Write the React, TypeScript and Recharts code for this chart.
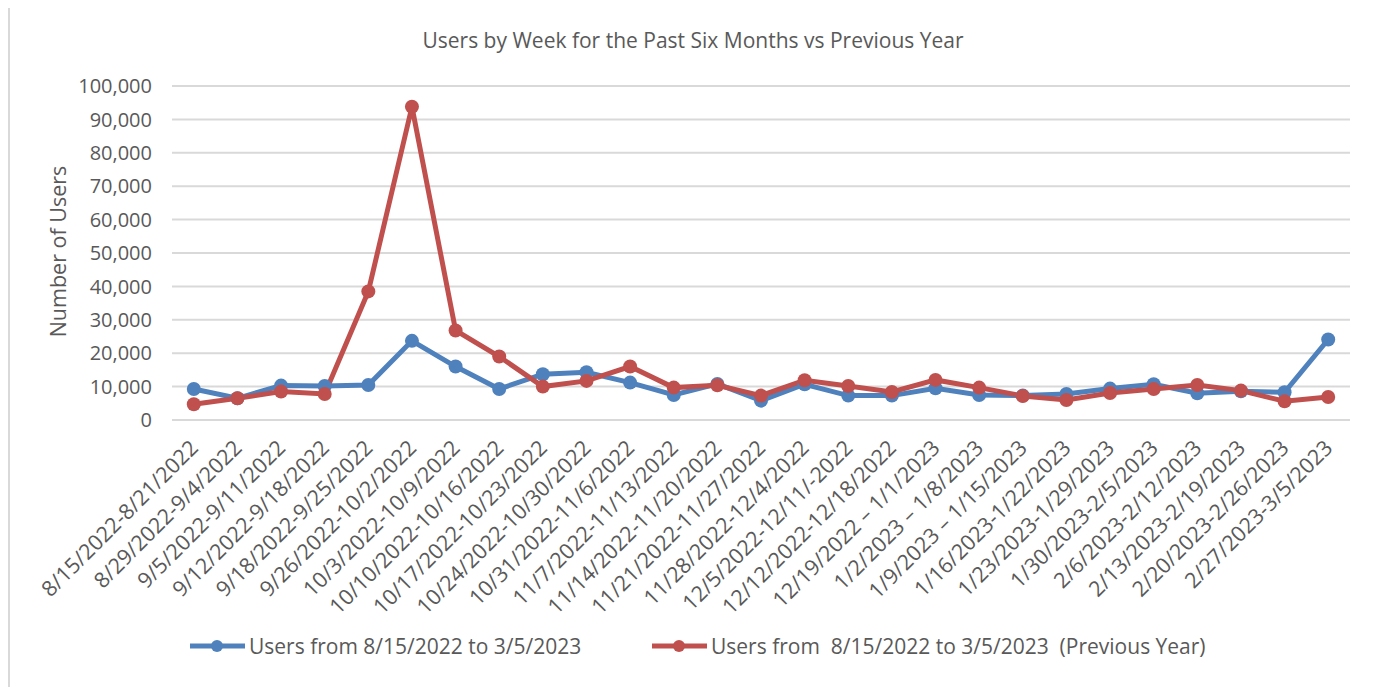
import React from 'react';
import { LineChart, Line, XAxis, YAxis, CartesianGrid } from 'recharts';

const weeks = [
  '8/15/2022-8/21/2022',
  '8/29/2022-9/4/2022',
  '9/5/2022-9/11/2022',
  '9/12/2022-9/18/2022',
  '9/18/2022-9/25/2022',
  '9/26/2022-10/2/2022',
  '10/3/2022-10/9/2022',
  '10/10/2022-10/16/2022',
  '10/17/2022-10/23/2022',
  '10/24/2022-10/30/2022',
  '10/31/2022-11/6/2022',
  '11/7/2022-11/13/2022',
  '11/14/2022-11/20/2022',
  '11/21/2022-11/27/2022',
  '11/28/2022-12/4/2022',
  '12/5/2022-12/11/-2022',
  '12/12/2022-12/18/2022',
  '12/19/2022 \u2013 1/1/2023',
  '1/2/2023 \u2013 1/8/2023',
  '1/9/2023 \u2013 1/15/2023',
  '1/16/2023-1/22/2023',
  '1/23/2023-1/29/2023',
  '1/30/2023-2/5/2023',
  '2/6/2023-2/12/2023',
  '2/13/2023-2/19/2023',
  '2/20/2023-2/26/2023',
  '2/27/2023-3/5/2023',
];

const currentUsers = [9300, 6500, 10300, 10200, 10500, 23700, 16000, 9300, 13700, 14300, 11200, 7500, 10800, 5800, 10700, 7300, 7300, 9500, 7500, 7300, 7800, 9400, 10700, 8000, 8600, 8300, 24100];
const previousUsers = [4700, 6500, 8500, 7800, 38500, 93800, 26800, 19000, 10000, 11700, 16000, 9700, 10400, 7300, 11900, 10200, 8400, 12000, 9700, 7200, 6000, 8100, 9300, 10500, 8800, 5600, 6900];

const yTicks = [0, 10000, 20000, 30000, 40000, 50000, 60000, 70000, 80000, 90000, 100000];

const seriesNames = ['Users from 8/15/2022 to 3/5/2023', 'Users from  8/15/2022 to 3/5/2023  (Previous Year)'];
const seriesColors = ['#4F81BD', '#C0504D'];

const data = weeks.map((w, i) => ({ week: w, current: currentUsers[i], previous: previousUsers[i] }));

const FONT = '"Open Sans", sans-serif';
const TEXT = '#595959';

const XTick = (props: any) => {
  const { x, y, payload } = props;
  return (
    <g transform={`translate(${x},${y})`}>
      <text x={0} y={0} dx={-11} dy={19} textAnchor="end" transform="rotate(-45)" fill={TEXT} fontSize={21.5} fontFamily={FONT}>
        {payload.value}
      </text>
    </g>
  );
};

const LegendItem = ({ color, label, left }: { color: string; label: string; left: number }) => (
  <div style={{ position: 'absolute', left, top: 626, display: 'flex', alignItems: 'center', whiteSpace: 'pre' }}>
    <svg width={57} height={20} style={{ display: 'block' }}>
      <line x1={1} y1={10} x2={56} y2={10} stroke={color} strokeWidth={5} />
      <circle cx={28} cy={10} r={6} fill={color} />
    </svg>
    <span style={{ fontFamily: FONT, fontSize: 21, color: TEXT, marginLeft: 3 }}>{label}</span>
  </div>
);

export default function App() {
  return (
    <div style={{ position: 'relative', width: 1372, height: 681, marginTop: -2, background: '#fff' }}>
      <div style={{ position: 'absolute', left: 0, top: 0, width: 1372, height: 690, border: '2px solid #d9d9d9', boxSizing: 'border-box', pointerEvents: 'none' }} />
      <div style={{ position: 'absolute', left: 0, top: 20, width: 1370, textAlign: 'center', fontFamily: FONT, fontSize: 21, color: TEXT }}>
        Users by Week for the Past Six Months vs Previous Year
      </div>
      <div style={{ position: 'absolute', left: 49, top: 246, width: 0, height: 0 }}>
        <div style={{ position: 'absolute', left: -100, top: -15, width: 200, textAlign: 'center', transform: 'rotate(-90deg)', fontFamily: FONT, fontSize: 21.5, color: TEXT, whiteSpace: 'nowrap' }}>
          Number of Users
        </div>
      </div>
      <LineChart width={1372} height={681} data={data} margin={{ top: 80, right: 30, left: 0, bottom: 67 }}>
        <CartesianGrid vertical={false} stroke="#d9d9d9" strokeWidth={2} />
        <XAxis
          dataKey="week"
          interval={0}
          height={200}
          padding={{ left: 21.8, right: 21.8 }}
          axisLine={{ stroke: '#d9d9d9', strokeWidth: 2 }}
          tickLine={false}
          tick={<XTick />}
        />
        <YAxis
          width={164}
          domain={[0, 100000]}
          ticks={yTicks}
          axisLine={false}
          tickLine={false}
          tickMargin={14}
          tick={{ fill: TEXT, fontSize: 20, fontFamily: FONT }}
          tickFormatter={(v: number) => v.toLocaleString('en-US')}
        />
        <Line dataKey="current" name={seriesNames[0]} stroke={seriesColors[0]} strokeWidth={5} dot={{ r: 7, fill: seriesColors[0], stroke: 'none' }} activeDot={false} isAnimationActive={false} />
        <Line dataKey="previous" name={seriesNames[1]} stroke={seriesColors[1]} strokeWidth={5} dot={{ r: 7, fill: seriesColors[1], stroke: 'none' }} activeDot={false} isAnimationActive={false} />
      </LineChart>
      <LegendItem color={seriesColors[0]} label={seriesNames[0]} left={181} />
      <LegendItem color={seriesColors[1]} label={seriesNames[1]} left={643} />
    </div>
  );
}
